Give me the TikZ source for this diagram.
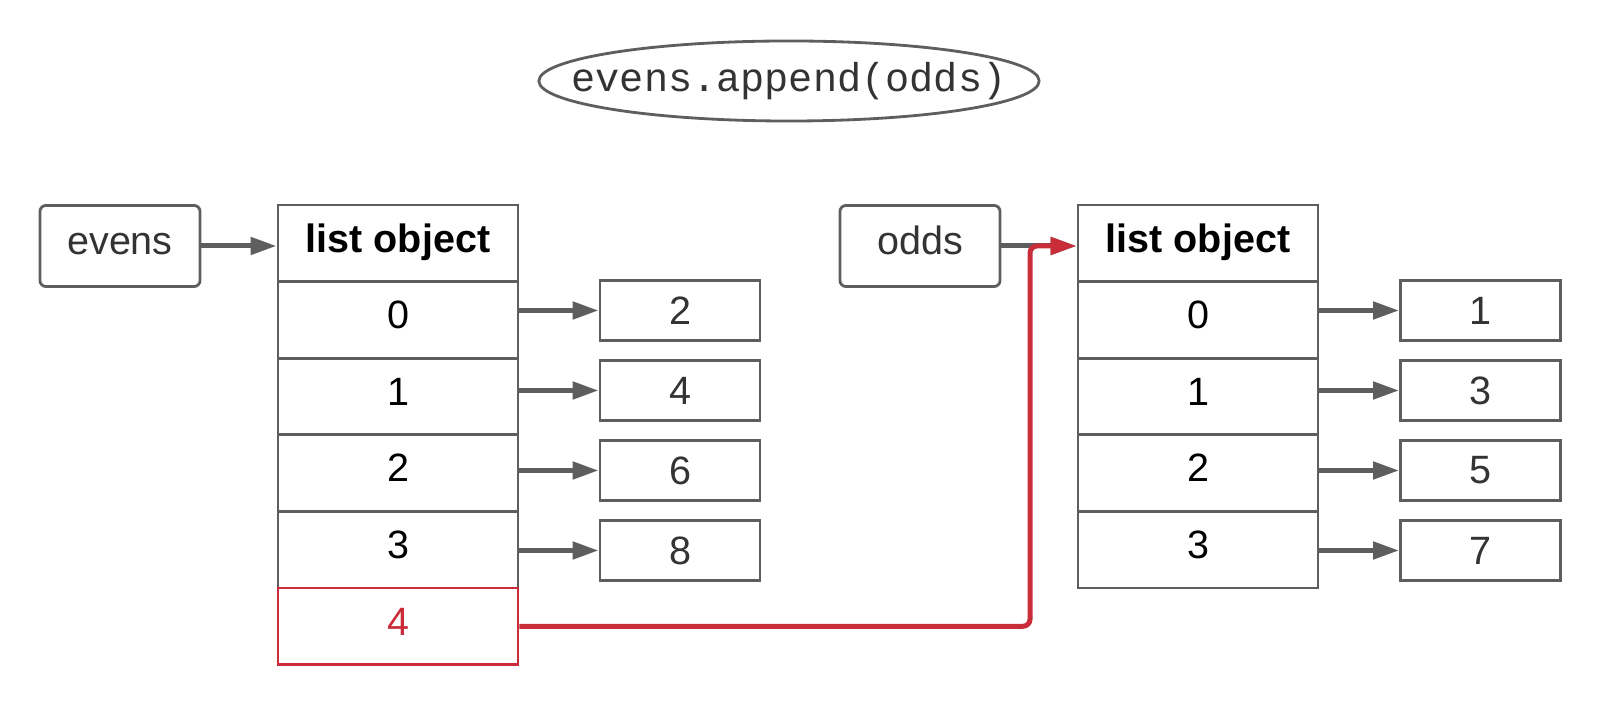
\documentclass[tikz,border=0pt]{standalone}
\usepackage{fontspec}
\setmainfont{Liberation Sans}
\newfontfamily\codefont{Liberation Mono}
\usetikzlibrary{shapes.geometric,arrows.meta}
\definecolor{lgrey}{HTML}{5E5E5E}
\definecolor{ltext}{HTML}{333333}
\definecolor{lred}{HTML}{C92D39}
\newcommand{\fs}{\fontsize{11.24pt}{13.5pt}\selectfont}
\newcommand{\fsc}{\fontsize{11.45pt}{13.5pt}\selectfont}
\tikzset{
  box/.style={draw=lgrey, line width=0.8pt, rectangle, inner sep=0pt, font=\fs, text=ltext},
  varbox/.style={box, rounded corners=0.06cm, minimum width=1.6cm, minimum height=0.81cm, text height=0.75em, text depth=0.25em},
  cell/.style={box, minimum width=2.4cm, minimum height=0.766cm, text height=0.75em, text depth=0.25em, text=black},
  hdr/.style={cell, font=\fs\bfseries},
  redcell/.style={cell, draw=lred, text=lred},
  val/.style={box, minimum width=1.6cm, minimum height=0.6cm},
  arr/.style={draw=lgrey, line width=1.42pt, -{Triangle[length=0.26cm,width=0.17cm]}},
  redarr/.style={draw=lred, line width=1.42pt, rounded corners=0.07cm, -{Triangle[length=0.26cm,width=0.17cm]}},
}
\begin{document}
\begin{tikzpicture}[x=0.01cm,y=-0.01cm]
\useasboundingbox (0,0) rectangle (1600,704);

% title
\node[ellipse, draw=lgrey, line width=0.8pt, minimum width=5.0cm, minimum height=0.8cm, inner sep=0pt] (title) at (789,81) {};
\node[inner sep=0pt, font=\codefont\fsc, text=ltext] (titletext) at (title.center) {evens.append(odds)};

% variables
\node[varbox] (evens) at (120,246) {evens};
\node[varbox] (odds) at (920,246) {odds};

% left list
\node[hdr] (hL) at (398,243.3) {list object};
\node[cell] (L0) at (398,319.9) {0};
\node[cell] (L1) at (398,396.5) {1};
\node[cell] (L2) at (398,473.1) {2};
\node[cell] (L3) at (398,549.7) {3};
\node[redcell] (L4) at (398,626.3) {4};

\node[val] (V2) at (680,310.5) {2};
\node[val] (V4) at (680,390.5) {4};
\node[val] (V6) at (680,470.5) {6};
\node[val] (V8) at (680,550.5) {8};

% right list
\node[hdr] (hR) at (1198,243.3) {list object};
\node[cell] (R0) at (1198,319.9) {0};
\node[cell] (R1) at (1198,396.5) {1};
\node[cell] (R2) at (1198,473.1) {2};
\node[cell] (R3) at (1198,549.7) {3};

\node[val] (V1) at (1480.5,310.5) {1};
\node[val] (V3) at (1480.5,390.5) {3};
\node[val] (V5) at (1480.5,470.5) {5};
\node[val] (V7) at (1480.5,550.5) {7};

% arrows
\draw[arr] (evens.east) -- (evens.east -| hL.west);
\draw[arr] (V2.west -| L0.east) -- (V2.west);
\draw[arr] (V4.west -| L1.east) -- (V4.west);
\draw[arr] (V6.west -| L2.east) -- (V6.west);
\draw[arr] (V8.west -| L3.east) -- (V8.west);

\draw[arr] (V1.west -| R0.east) -- (V1.west);
\draw[arr] (V3.west -| R1.east) -- (V3.west);
\draw[arr] (V5.west -| R2.east) -- (V5.west);
\draw[arr] (V7.west -| R3.east) -- (V7.west);

\draw[arr] (odds.east) -- (odds.east -| hR.west);

\coordinate (bend) at (1030,626.3);
\draw[redarr] (L4.east) -- (bend) -- (bend |- odds.east) -- (odds.east -| hR.west);
\end{tikzpicture}
\end{document}
